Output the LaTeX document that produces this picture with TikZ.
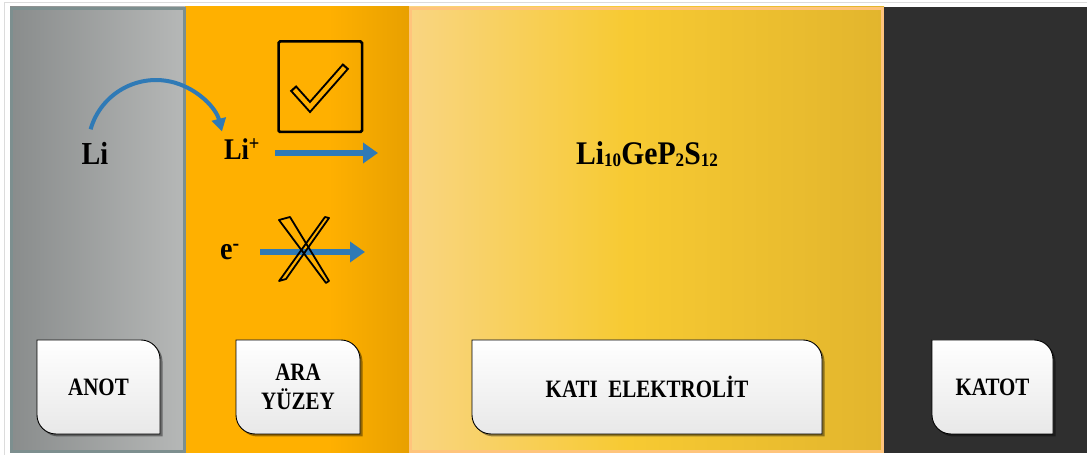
\documentclass[tikz,border=0pt]{standalone}
\usepackage{fontspec}
\setmainfont{Liberation Serif}
\newfontfamily\labelfont[FakeStretch=0.88]{Liberation Serif}
\newfontfamily\plateFont[FakeStretch=0.84]{Liberation Serif}
\newfontfamily\formulaFont[FakeStretch=0.9]{Liberation Serif}
\usetikzlibrary{arrows.meta}

% panel and arrow colours
\definecolor{anodeL}{HTML}{898C8C}
\definecolor{anodeR}{HTML}{B6B8B7}
\definecolor{anodeEdge}{HTML}{7D8F8F}
\definecolor{ifaceA}{HTML}{FFB000}
\definecolor{ifaceB}{HTML}{E8A000}
\definecolor{elyA}{HTML}{F9D582}
\definecolor{elyB}{HTML}{F7CA32}
\definecolor{elyC}{HTML}{E2B52D}
\definecolor{elyEdge}{HTML}{FFC47C}
\definecolor{cathode}{HTML}{2F2F2F}
\definecolor{flow}{HTML}{2F7AB6}
\definecolor{frameline}{HTML}{DCDCDC}

\pgfdeclarehorizontalshading{ifaceshade}{100bp}{color(0bp)=(ifaceA); color(25bp)=(ifaceA); color(57bp)=(ifaceA); color(75bp)=(ifaceB); color(100bp)=(ifaceB)}
\pgfdeclarehorizontalshading{elyshade}{100bp}{color(0bp)=(elyA); color(25bp)=(elyA); color(48bp)=(elyB); color(75bp)=(elyC); color(100bp)=(elyC)}

\newcommand\sub[1]{\raisebox{-2pt}{\fontsize{19}{19}\selectfont #1}}

\tikzset{
  chem/.style={font=\labelfont\bfseries\fontsize{32}{32}\selectfont, inner sep=0pt},
  formula/.style={font=\formulaFont\bfseries\fontsize{33}{33}\selectfont, inner sep=0pt},
  tagtext/.style={font=\plateFont\bfseries\fontsize{25}{29}\selectfont, align=center, inner sep=0pt},
  flowarrow/.style={draw=flow, line width=6, -{Triangle[length=15pt,width=20pt]}},
  curvearrow/.style={draw=flow, line width=4, -{Triangle[length=13pt,width=14pt]}},
  okframe/.style={draw=black, line width=2.5, rounded corners=1.5, minimum width=83.5, minimum height=90.5, inner sep=0pt},
  xstroke/.style={draw=black, line width=1.8, line join=round},
}

% label plate: square top-left and bottom-right, rounded top-right and bottom-left
\newcommand\tagpath[4]{(#1,#4) -- (#3-19,#4) arc[start angle=90,end angle=0,radius=19] -- (#3,#2) -- (#1+19,#2) arc[start angle=270,end angle=180,radius=19] -- cycle}
\newcommand\tagbox[6]{%
  \fill[black, opacity=0.4, shift={(2.5,-2.5)}] \tagpath{#2}{#3}{#4}{#5};
  \shade[top color=white, bottom color=black!9] \tagpath{#2}{#3}{#4}{#5};
  \draw[black, line width=0.9] \tagpath{#2}{#3}{#4}{#5};
  \node[tagtext] (#1) at ({(#2+#4)/2},{(#3+#5)/2}) {#6};
}

\begin{document}
\begin{tikzpicture}[x=1pt,y=1pt]
\fill[white] (0,0) rectangle (1087,455);
\useasboundingbox (0,0) rectangle (1087,455);
\draw[frameline, line width=1] (4.5,0) -- (4.5,452.5) -- (1087,452.5);

% layers
\shade[shading=ifaceshade] (185,2) rectangle (409,448);
\shade[left color=anodeL, right color=anodeR] (10,2) rectangle (185,448);
\draw[anodeEdge, line width=3] (11.5,3.5) rectangle (184,446.5);
\shade[shading=elyshade] (409,2) rectangle (884,448);
\draw[elyEdge, line width=3] (410.5,3.5) rectangle (882.5,446.5);
\fill[cathode] (884,2) rectangle (1087,448);

% species
\node[chem, anchor=base] (li) at (95,290) {Li};
\node[chem, anchor=base, font=\labelfont\bfseries\fontsize{30}{30}\selectfont] (lip) at (242,295) {Li\textsuperscript{+}};
\node[chem, anchor=base] (em) at (230,195) {e\textsuperscript{-}};
\node[formula, anchor=base] (lgps) at (647,290) {Li\sub{10}GeP\sub{2}S\sub{12}};

% Li -> Li+ oxidation
\coordinate (swing) at (90.6,325.7);
\draw[curvearrow] (swing) arc[start angle=164, end angle=14, radius=68];

% ion passes
\coordinate (ionfrom) at (275,302);
\coordinate (ionto) at (378,302);
\draw[flowarrow] (ionfrom) -- (ionto);
\node[okframe] (okbox) at (320.25,368.25) {};
\draw[black, line width=8.5, line join=miter] (293,367) -- (310,348) -- (346,389);
\draw[ifaceA, line width=4.5, line join=miter, shorten <=2.2pt, shorten >=2.2pt] (293,367) -- (310,348) -- (346,389);

% electron blocked
\coordinate (elfrom) at (260,203);
\coordinate (elto) at (365,203);
\draw[flowarrow] (elfrom) -- (elto);
\draw[xstroke] (279,235) -- (290,238) -- (329,174) -- (326,172) -- cycle;
\draw[xstroke] (325,238) -- (329,237) -- (286,176) -- (279,174) -- (282,178) -- cycle;

% layer name plates
\tagbox{anot}{37}{21}{160}{115}{ANOT}
\tagbox{ara}{236}{21}{360}{115}{ARA\\Y\"UZEY}
\tagbox{kati}{472}{21}{822}{115}{KATI\ \ ELEKTROL\.IT}
\tagbox{katot}{932}{21}{1053}{115}{KATOT}
\end{tikzpicture}
\end{document}
